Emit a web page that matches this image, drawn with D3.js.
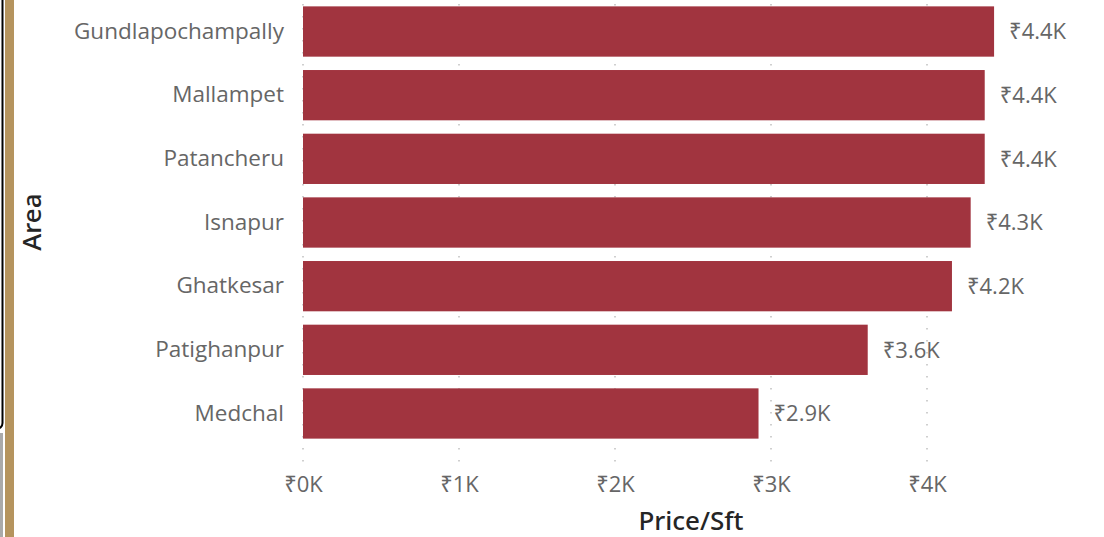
<!DOCTYPE html>
<html>
<head>
<meta charset="utf-8">
<script src="https://cdn.jsdelivr.net/npm/d3@7"></script>
<style>
  html, body { margin: 0; padding: 0; background: #fff; }
  svg { display: block; }
</style>
</head>
<body>
<div id="chart"></div>
<script>
var areas = ['Gundlapochampally','Mallampet','Patancheru','Isnapur','Ghatkesar','Patighanpur','Medchal']
var prices = [4430, 4370, 4370, 4280, 4160, 3620, 2920]
var ticks = [0, 1000, 2000, 3000, 4000]

var width = 1104, height = 537
var svg = d3.select('#chart').append('svg')
    .attr('width', width)
    .attr('height', height)

// left frame bits
svg.append('rect').attr('x', -20).attr('y', -20).attr('width', 22.5).attr('height', 449)
  .attr('rx', 6).attr('fill', '#fff').attr('stroke', '#000').attr('stroke-width', 2)
svg.append('rect').attr('x', 0).attr('y', 433).attr('width', 3).attr('height', 104).attr('fill', '#aaa')
svg.append('rect').attr('x', 5).attr('y', 0).attr('width', 9).attr('height', height).attr('fill', '#b5945e')

var data = areas.map((a, i) => ({ area: a, price: prices[i] }))

var x = d3.scaleLinear().domain([0, 4500]).range([303, 303 + 156 * 4.5])
var y = d3.scaleBand().domain(areas).range([0, 445]).paddingInner(0.21).paddingOuter(0.1)

var font = "'Segoe UI', 'Open Sans', 'Noto Sans', sans-serif"
var titleFont = "'DIN', 'Noto Sans', 'DejaVu Sans', sans-serif"

// dotted gridlines
svg.append('g').selectAll('line').data(ticks).join('line')
  .attr('x1', d => x(d)).attr('x2', d => x(d))
  .attr('y1', 4).attr('y2', 464)
  .attr('stroke', '#c4c4c4').attr('stroke-width', 1.6)
  .attr('stroke-dasharray', '1.6,10.4')

// bars
svg.append('g').selectAll('rect').data(data).join('rect')
  .attr('x', x(0))
  .attr('y', d => y(d.area))
  .attr('width', d => x(d.price) - x(0))
  .attr('height', y.bandwidth())
  .attr('fill', '#a1343f')

// value labels
svg.append('g').selectAll('text').data(data).join('text')
  .attr('x', d => x(d.price) + 15)
  .attr('y', d => y(d.area) + y.bandwidth() / 2)
  .attr('dy', '0.35em')
  .attr('fill', '#666')
  .style('font-family', font).style('font-size', '22px')
  .text(d => '₹' + (d.price / 1000).toFixed(1) + 'K')

// y axis
var yAxis = svg.append('g').attr('transform', 'translate(303,0)')
  .call(d3.axisLeft(y).tickSize(0).tickPadding(19))
yAxis.select('.domain').remove()
yAxis.selectAll('text').attr('fill', '#666').style('font-family', font).style('font-size', '22.5px')

// x axis
var xAxis = svg.append('g').attr('transform', 'translate(0,474)')
  .call(d3.axisBottom(x).tickValues(ticks).tickSize(0).tickPadding(2)
    .tickFormat(d => '₹' + d / 1000 + 'K'))
xAxis.select('.domain').remove()
xAxis.selectAll('text').attr('fill', '#666').style('font-family', font).style('font-size', '22px')

// axis titles
svg.append('text')
  .attr('x', 691).attr('y', 530)
  .attr('text-anchor', 'middle')
  .attr('fill', '#252525')
  .style('font-family', titleFont).style('font-size', '26px').style('font-weight', 500)
  .text('Price/Sft')

svg.append('text')
  .attr('transform', 'translate(41,222) rotate(-90)')
  .attr('text-anchor', 'middle')
  .attr('fill', '#252525')
  .style('font-family', titleFont).style('font-size', '26px').style('font-weight', 500)
  .text('Area')
</script>
</body>
</html>
